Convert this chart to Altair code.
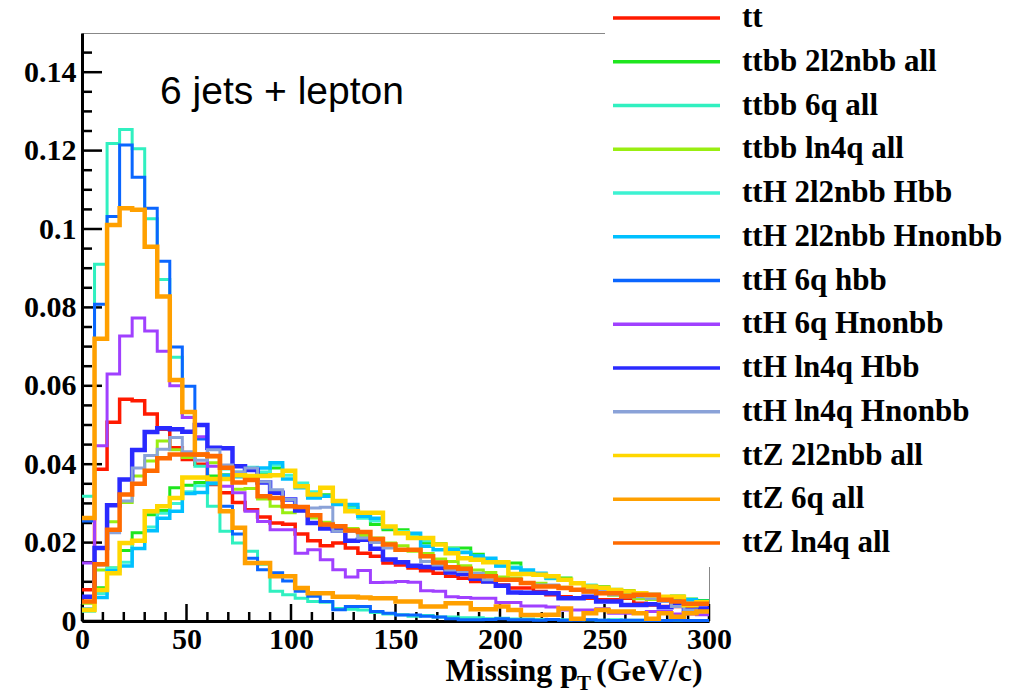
import altair as alt
import pandas as pd

# ---------------- data ----------------
BIN_WIDTH = 6  # GeV per histogram bin, 0..300 GeV

series_names = [
    "tt", "ttbb 2l2nbb all", "ttbb 6q all", "ttbb ln4q all",
    "ttH 2l2nbb Hbb", "ttH 2l2nbb Hnonbb", "ttH 6q hbb", "ttH 6q Hnonbb",
    "ttH ln4q Hbb", "ttH ln4q Hnonbb", "ttZ 2l2nbb all", "ttZ 6q all", "ttZ ln4q all",
]

tt = [0.0080, 0.0387, 0.0507, 0.0566, 0.0562, 0.0528, 0.0489, 0.0442, 0.0412, 0.0400,
      0.0348, 0.0327, 0.0302, 0.0284, 0.0265, 0.0250, 0.0247, 0.0222, 0.0205, 0.0192,
      0.0199, 0.0186, 0.0173, 0.0165, 0.0148, 0.0143, 0.0135, 0.0128, 0.0122, 0.0114,
      0.0109, 0.0101, 0.0101, 0.0092, 0.0084, 0.0084, 0.0075, 0.0067, 0.0062, 0.0058,
      0.0058, 0.0054, 0.0054, 0.0058, 0.0045, 0.0041, 0.0037, 0.0037, 0.0032, 0.0028]

ttbb_2l2nbb = [0.0030, 0.0085, 0.0135, 0.0180, 0.0225, 0.0271, 0.0282, 0.0340, 0.0346, 0.0353,
               0.0370, 0.0368, 0.0372, 0.0360, 0.0378, 0.0390, 0.0383, 0.0345, 0.0318, 0.0322,
               0.0305, 0.0290, 0.0268, 0.0246, 0.0233, 0.0233, 0.0212, 0.0199, 0.0198, 0.0186,
               0.0186, 0.0170, 0.0155, 0.0150, 0.0148, 0.0122, 0.0120, 0.0116, 0.0110, 0.0098,
               0.0090, 0.0088, 0.0080, 0.0078, 0.0072, 0.0068, 0.0062, 0.0064, 0.0056, 0.0052]

ttbb_6q = [0.0318, 0.0910, 0.1218, 0.1254, 0.1205, 0.1026, 0.0871, 0.0673, 0.0520, 0.0395,
           0.0293, 0.0229, 0.0199, 0.0178, 0.0145, 0.0076, 0.0067, 0.0058, 0.0050, 0.0048,
           0.0032, 0.0030, 0.0028, 0.0022, 0.0018, 0.0016, 0.0012, 0.0014, 0.0010, 0.0010,
           0.0008, 0.0008, 0.0006, 0.0007, 0.0005, 0.0005, 0.0004, 0.0004, 0.0003, 0.0004,
           0.0003, 0.0002, 0.0003, 0.0002, 0.0002, 0.0002, 0.0001, 0.0002, 0.0001, 0.0001]

ttbb_ln4q = [0.0045, 0.0130, 0.0253, 0.0302, 0.0370, 0.0408, 0.0459, 0.0437, 0.0417, 0.0422,
             0.0404, 0.0374, 0.0336, 0.0338, 0.0311, 0.0293, 0.0276, 0.0281, 0.0263, 0.0252,
             0.0238, 0.0236, 0.0218, 0.0212, 0.0199, 0.0192, 0.0178, 0.0172, 0.0158, 0.0152,
             0.0141, 0.0130, 0.0124, 0.0112, 0.0110, 0.0098, 0.0096, 0.0088, 0.0086, 0.0079,
             0.0074, 0.0070, 0.0066, 0.0062, 0.0057, 0.0055, 0.0050, 0.0048, 0.0046, 0.0042]

ttH_2l2nbb_Hbb = [0.0025, 0.0070, 0.0135, 0.0150, 0.0205, 0.0240, 0.0275, 0.0300, 0.0330, 0.0345,
                  0.0360, 0.0388, 0.0380, 0.0392, 0.0380, 0.0398, 0.0372, 0.0352, 0.0330, 0.0318,
                  0.0300, 0.0288, 0.0262, 0.0255, 0.0240, 0.0228, 0.0220, 0.0205, 0.0196, 0.0184,
                  0.0176, 0.0165, 0.0150, 0.0140, 0.0138, 0.0125, 0.0118, 0.0108, 0.0105, 0.0098,
                  0.0092, 0.0086, 0.0081, 0.0074, 0.0070, 0.0066, 0.0060, 0.0058, 0.0054, 0.0050]

ttH_2l2nbb_Hnonbb = [0.0030, 0.0060, 0.0128, 0.0140, 0.0185, 0.0230, 0.0262, 0.0280, 0.0325, 0.0328,
                     0.0350, 0.0372, 0.0368, 0.0385, 0.0390, 0.0404, 0.0362, 0.0340, 0.0314, 0.0318,
                     0.0297, 0.0297, 0.0267, 0.0262, 0.0238, 0.0225, 0.0224, 0.0191, 0.0182, 0.0182,
                     0.0175, 0.0166, 0.0160, 0.0140, 0.0135, 0.0130, 0.0122, 0.0110, 0.0104, 0.0096,
                     0.0090, 0.0084, 0.0080, 0.0072, 0.0068, 0.0064, 0.0060, 0.0056, 0.0054, 0.0050]

ttH_6q_hbb = [0.0255, 0.0808, 0.1032, 0.1214, 0.1132, 0.1053, 0.0918, 0.0699, 0.0599, 0.0464,
              0.0360, 0.0293, 0.0222, 0.0160, 0.0131, 0.0123, 0.0102, 0.0076, 0.0063, 0.0050,
              0.0029, 0.0037, 0.0037, 0.0024, 0.0020, 0.0015, 0.0015, 0.0012, 0.0010, 0.0006,
              0.0003, 0.0003, 0.0004, 0.0006, 0.0003, 0.0003, 0.0002, 0.0004, 0.0002, 0.0002,
              0.0003, 0.0002, 0.0001, 0.0002, 0.0002, 0.0001, 0.0001, 0.0002, 0.0001, 0.0001]

ttH_6q_Hnonbb = [0.0148, 0.0447, 0.0630, 0.0727, 0.0773, 0.0740, 0.0688, 0.0600, 0.0519, 0.0470,
                 0.0395, 0.0344, 0.0327, 0.0280, 0.0254, 0.0233, 0.0233, 0.0173, 0.0182, 0.0156,
                 0.0131, 0.0112, 0.0129, 0.0098, 0.0099, 0.0101, 0.0099, 0.0077, 0.0076, 0.0062,
                 0.0060, 0.0058, 0.0058, 0.0047, 0.0047, 0.0038, 0.0038, 0.0036, 0.0028, 0.0028,
                 0.0028, 0.0031, 0.0020, 0.0020, 0.0020, 0.0024, 0.0024, 0.0018, 0.0018, 0.0016]

ttH_ln4q_Hbb = [0.0062, 0.0186, 0.0295, 0.0361, 0.0436, 0.0482, 0.0492, 0.0489, 0.0483, 0.0500,
                0.0442, 0.0441, 0.0395, 0.0385, 0.0353, 0.0327, 0.0310, 0.0282, 0.0250, 0.0236,
                0.0231, 0.0205, 0.0207, 0.0184, 0.0157, 0.0150, 0.0141, 0.0138, 0.0135, 0.0124,
                0.0120, 0.0108, 0.0101, 0.0090, 0.0073, 0.0072, 0.0072, 0.0071, 0.0058, 0.0058,
                0.0062, 0.0050, 0.0050, 0.0041, 0.0041, 0.0043, 0.0035, 0.0043, 0.0028, 0.0032]

ttH_ln4q_Hnonbb = [0.0030, 0.0143, 0.0225, 0.0306, 0.0390, 0.0422, 0.0438, 0.0468, 0.0432, 0.0410,
                   0.0437, 0.0398, 0.0380, 0.0390, 0.0355, 0.0335, 0.0310, 0.0290, 0.0288, 0.0290,
                   0.0229, 0.0228, 0.0212, 0.0200, 0.0186, 0.0182, 0.0182, 0.0152, 0.0143, 0.0130,
                   0.0126, 0.0122, 0.0105, 0.0105, 0.0105, 0.0097, 0.0092, 0.0092, 0.0084, 0.0080,
                   0.0080, 0.0080, 0.0067, 0.0062, 0.0062, 0.0058, 0.0050, 0.0037, 0.0028, 0.0024]

ttZ_2l2nbb = [0.0028, 0.0079, 0.0122, 0.0199, 0.0205, 0.0280, 0.0293, 0.0314, 0.0366, 0.0366,
              0.0362, 0.0362, 0.0372, 0.0370, 0.0370, 0.0372, 0.0383, 0.0344, 0.0323, 0.0340,
              0.0306, 0.0280, 0.0276, 0.0276, 0.0241, 0.0224, 0.0212, 0.0212, 0.0195, 0.0173,
              0.0160, 0.0156, 0.0150, 0.0150, 0.0120, 0.0120, 0.0118, 0.0114, 0.0105, 0.0096,
              0.0088, 0.0085, 0.0079, 0.0075, 0.0071, 0.0066, 0.0062, 0.0062, 0.0040, 0.0048]

ttZ_6q = [0.0263, 0.0720, 0.1010, 0.1053, 0.1049, 0.0955, 0.0828, 0.0615, 0.0533, 0.0425,
          0.0420, 0.0280, 0.0238, 0.0148, 0.0148, 0.0114, 0.0114, 0.0084, 0.0071, 0.0071,
          0.0062, 0.0062, 0.0060, 0.0058, 0.0058, 0.0050, 0.0050, 0.0037, 0.0037, 0.0045,
          0.0045, 0.0030, 0.0030, 0.0037, 0.0028, 0.0015, 0.0015, 0.0016, 0.0032, 0.0006,
          0.0020, 0.0028, 0.0024, 0.0024, 0.0020, 0.0006, 0.0020, 0.0011, 0.0020, 0.0024]

ttZ_ln4q = [0.0050, 0.0145, 0.0233, 0.0323, 0.0350, 0.0383, 0.0415, 0.0425, 0.0425, 0.0425,
            0.0421, 0.0391, 0.0353, 0.0360, 0.0318, 0.0314, 0.0293, 0.0291, 0.0270, 0.0246,
            0.0242, 0.0231, 0.0227, 0.0209, 0.0195, 0.0182, 0.0182, 0.0165, 0.0149, 0.0137,
            0.0133, 0.0114, 0.0114, 0.0105, 0.0105, 0.0097, 0.0088, 0.0088, 0.0084, 0.0080,
            0.0075, 0.0071, 0.0071, 0.0064, 0.0067, 0.0067, 0.0054, 0.0050, 0.0044, 0.0044]

series_values = [tt, ttbb_2l2nbb, ttbb_6q, ttbb_ln4q, ttH_2l2nbb_Hbb, ttH_2l2nbb_Hnonbb,
                 ttH_6q_hbb, ttH_6q_Hnonbb, ttH_ln4q_Hbb, ttH_ln4q_Hnonbb,
                 ttZ_2l2nbb, ttZ_6q, ttZ_ln4q]

# axis tick values
y_major_ticks = [0, 0.02, 0.04, 0.06, 0.08, 0.1, 0.12, 0.14]
y_minor_ticks = [0.005, 0.01, 0.015, 0.025, 0.03, 0.035, 0.045, 0.05, 0.055, 0.065, 0.07,
                 0.075, 0.085, 0.09, 0.095, 0.105, 0.11, 0.115, 0.125, 0.13, 0.135, 0.145]
x_major_ticks = [0, 50, 100, 150, 200, 250, 300]
x_minor_ticks = [10, 20, 30, 40, 60, 70, 80, 90, 110, 120, 130, 140, 160, 170, 180, 190,
                 210, 220, 230, 240, 260, 270, 280, 290]

# ---------------- styles ----------------
line_colors = ["#ff1a00", "#1ee61e", "#30f0c0", "#99ee11", "#3cf2d2", "#00c0ff",
               "#0a66ff", "#a040ff", "#2a2aff", "#8aa2d8", "#ffd700", "#ffa000", "#ff6a00"]
line_widths = [3.5, 3, 3, 3, 3, 3.5, 3, 3, 4.5, 3, 4.5, 4.5, 4.5]

W, H = 627, 588
SERIF = "Liberation Serif"

xscale = alt.Scale(domain=[0, 300], nice=False, zero=False)
yscale = alt.Scale(domain=[0, 0.15], nice=False, zero=True)

x_axis = alt.Axis(values=x_major_ticks, ticks=False, grid=False, domainColor="black",
                  domainWidth=3, labelFont=SERIF, labelFontWeight="bold", labelFontSize=30,
                  labelColor="black", labelPadding=3, labelFlush=False, title=None)
y_axis = alt.Axis(values=y_major_ticks, format="~g", ticks=False, grid=False,
                  domainColor="black", domainWidth=3, labelFont=SERIF,
                  labelFontWeight="bold", labelFontSize=30, labelColor="black",
                  labelPadding=6, labelFlush=False, title=None)


def hist_frame(vals):
    edges = [i * BIN_WIDTH for i in range(len(vals) + 1)]
    return pd.DataFrame({"x": edges, "y": list(vals) + [vals[-1]]})


# tick marks drawn inside the frame
ymaj = alt.Chart(pd.DataFrame({"v": y_major_ticks})).mark_rule(color="black", strokeWidth=2.5).encode(
    y=alt.Y("v:Q", scale=yscale, axis=y_axis), x=alt.value(0), x2=alt.value(20))
ymin = alt.Chart(pd.DataFrame({"v": y_minor_ticks})).mark_rule(color="black", strokeWidth=2.5).encode(
    y=alt.Y("v:Q", scale=yscale, axis=y_axis), x=alt.value(0), x2=alt.value(10))
xmaj = alt.Chart(pd.DataFrame({"v": x_major_ticks})).mark_rule(color="black", strokeWidth=2.5).encode(
    x=alt.X("v:Q", scale=xscale, axis=x_axis), y=alt.value(H), y2=alt.value(H - 17))
xmin = alt.Chart(pd.DataFrame({"v": x_minor_ticks})).mark_rule(color="black", strokeWidth=2.5).encode(
    x=alt.X("v:Q", scale=xscale, axis=x_axis), y=alt.value(H), y2=alt.value(H - 9))

hist_layers = []
for name, vals, col, w in zip(series_names, series_values, line_colors, line_widths):
    hist_layers.append(
        alt.Chart(hist_frame(vals)).mark_line(
            interpolate="step-after", color=col, strokeWidth=w, strokeJoin="miter"
        ).encode(
            x=alt.X("x:Q", scale=xscale, axis=x_axis),
            y=alt.Y("y:Q", scale=yscale, axis=y_axis),
        )
    )

one = pd.DataFrame({"a": [0]})
label_6jets = alt.Chart(one).mark_text(
    text="6 jets + lepton", font="Liberation Sans", fontSize=39, align="left",
    baseline="alphabetic", color="black").encode(x=alt.value(78), y=alt.value(71))
xt1 = alt.Chart(one).mark_text(
    text="Missing p", font=SERIF, fontWeight="bold", fontSize=32, align="right",
    baseline="alphabetic", color="black").encode(x=alt.value(496), y=alt.value(648))
xt2 = alt.Chart(one).mark_text(
    text="T", font=SERIF, fontWeight="bold", fontSize=21, align="left",
    baseline="alphabetic", color="black").encode(x=alt.value(495), y=alt.value(657))
xt3 = alt.Chart(one).mark_text(
    text="(GeV/c)", font=SERIF, fontWeight="bold", fontSize=32, align="left",
    baseline="alphabetic", color="black").encode(x=alt.value(514), y=alt.value(648))

plot_part = alt.layer(ymin, ymaj, xmin, xmaj, *hist_layers, label_6jets, xt1, xt2, xt3)

# legend (white box over the top-right corner of the frame)
legend_df = pd.DataFrame({"name": series_names, "color": line_colors})
leg_y = alt.Y("name:N", sort=series_names, axis=None,
              scale=alt.Scale(type="point", range=[-15, 510], padding=0))
box = alt.Chart(one).mark_rect(color="white").encode(
    x=alt.value(523), x2=alt.value(937), y=alt.value(-33), y2=alt.value(534))
leg_lines = alt.Chart(legend_df).mark_rule(strokeWidth=3.5).encode(
    y=leg_y, x=alt.value(531), x2=alt.value(638),
    color=alt.Color("name:N", scale=alt.Scale(domain=series_names, range=line_colors), legend=None))
leg_text = alt.Chart(legend_df).mark_text(
    align="left", baseline="middle", font=SERIF, fontWeight="bold", fontSize=31, color="black"
).encode(y=leg_y, x=alt.value(660), text="name:N")

legend_part = alt.layer(box, leg_lines, leg_text)

chart = alt.layer(plot_part, legend_part).resolve_scale(y="independent").properties(
    width=W, height=H, autosize="none",
    padding={"left": 82, "top": 33, "right": 310, "bottom": 74},
    background="white",
).configure_view(stroke="#888888", strokeWidth=1)

chart.save("out.html", embed_options={"renderer": "svg", "actions": False})
